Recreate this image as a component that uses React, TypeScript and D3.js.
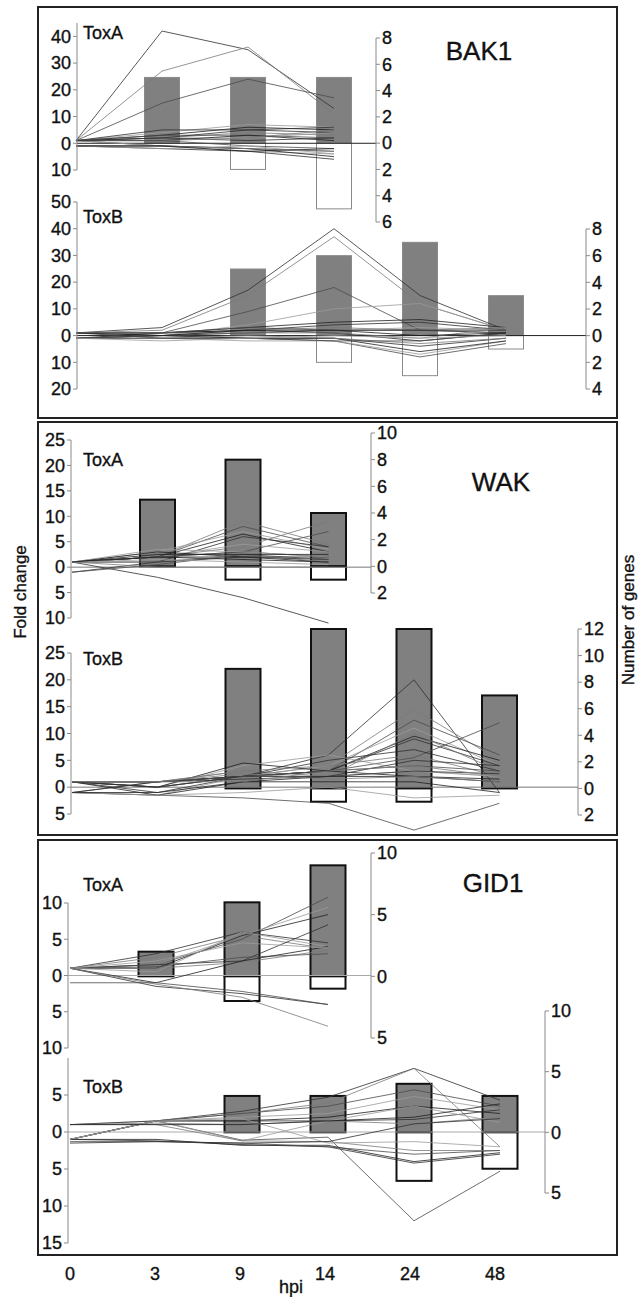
import React from "react";
import * as d3 from "d3";

// Sampling times (hours post infiltration)
const TIMES = ["0", "3", "9", "14", "24", "48"];

// Number of up- / down-regulated genes at each time point
const bak1ToxAUp = [0, 5, 5, 5];
const bak1ToxADown = [0, 0, 2, 5];
const bak1ToxBUp = [0, 0, 5, 6, 7, 3];
const bak1ToxBDown = [0, 0, 0, 2, 3, 1];
const wakToxAUp = [0, 5, 8, 4];
const wakToxADown = [0, 0, 1, 1];
const wakToxBUp = [0, 0, 9, 12, 12, 7];
const wakToxBDown = [0, 0, 0, 1, 1, 0];
const gid1ToxAUp = [0, 2, 6, 9];
const gid1ToxADown = [0, 0, 2, 1];
const gid1ToxBUp = [0, 0, 3, 3, 4, 3];
const gid1ToxBDown = [0, 0, 0, 0, 4, 3];

// Fold-change profiles of individual genes (one value per time point)
const bak1ToxALines = [
  [1, 42, 35, 13], [1, 27, 36, 11], [1, 15, 24, 17], [1, 4, 7, 6],
  [1, 3, 6, 5], [1, 5, 5, 4], [1, 2, 4, 3], [1, 3, 3, 2], [1, 2, 2, 4],
  [1, 1, 3, 1], [1, 2, 1, 2], [1, 1, 2, 5], [1, -1, -2, -3], [1, -1, -3, -4],
  [-1, -1, -2, -5], [-1, -2, -3, -6], [-1, -1, -2, -3], [1, 1, -1, -2],
  [-1, -2, -1, -4], [-1, -1, -3, -2], [1, 2, 5, 6],
];
const bak1ToxBLines = [
  [1, 3, 17, 40, 15, 2], [1, 2, 15, 37, 12, 2], [1, 1, 9, 18, 2, 1],
  [1, 0, 4, 10, 12, 2], [1, 1, 3, 5, 6, 3], [1, 1, 2, 4, 5, 2],
  [1, 0, 2, 3, 2, 3], [1, 1, 3, 2, 2, 1], [1, 0, 1, 2, 3, 2],
  [-1, 1, 2, 1, -2, 1], [-1, 0, 1, 2, 2, 2], [1, 1, 1, 1, -1, 3],
  [-1, 0, -1, -2, -8, -3], [-1, -1, -2, -2, -7, -2], [-1, -1, -1, -1, -6, -2],
  [-1, 0, -1, -1, -4, -1], [-1, -1, 0, -1, -3, -1], [1, -1, -1, -2, -2, 1],
  [-1, -2, -1, 0, -1, 0], [1, 0, 2, 2, 0, 1],
];
const wakToxALines = [
  [1, -2, -6, -11], [1, 2, 9, 4.5], [1, 2, 8, 4], [1, 3, 7, 3.5],
  [1, 2, 6.5, 3], [1, 1, 6, 4], [1, 2, 4, 9], [1, 2, 3, 7], [1, 2, 4.5, 3],
  [1, 3, 2, 1], [1, 2, 2, 2], [1, 1, 2.5, 1], [1, 2, 3, 2], [1, 3.5, 3, 2],
  [1, 2, 1.5, 1], [-1, 1, 2, 1.5], [1, 0, 0, 0], [-1, 0.5, 2.5, 1.5],
  [1, 1.5, 1, 0.5], [1, 2.5, 2.5, 2.5],
];
const wakToxBLines = [
  [1, -1, 2, 6, 20, -1], [1, 0, 2, 4, 14.5, 5], [1, 1, 2, 3, 12.5, 6],
  [1, 0, 2, 4, 11, 4], [1, 1, 2, 3, 9.5, 5], [1, 1, 2, 3, 9, 4],
  [1, 1, 3, 2, 10, 3], [1, 0, 2, 3, 5.5, 12], [1, 0, 4, 6, 3, 2],
  [1, 0, 4.5, 3, 2, 1], [1, 1, 2, 5, 7, 3], [1, 1, 3, 4, 6, 2],
  [-1, 1, 2, 3, 4, 3], [-1, -1.5, 2, 2, 3, 2], [1, -1.5, 1, 2, 2, 1.5],
  [-1, 1, 1.5, 2, 3, 2.5], [1, 1, 2.5, 1.5, 2, 1], [-1, -1.5, -2, -3, -8, -3],
  [-1, -1.5, -1, 0, -2, -1.5], [-1, -1, 1, 1, 1, -1], [1, 0, 2, 2, 5, 4],
  [1, 1, 1, 3, 4, 2],
];
const gid1ToxALines = [
  [1, 3, 6, 4.5], [1, 2.5, 5.5, 3.7], [1, 1.5, 5, 10.8], [1, 1.5, 5.5, 9.4],
  [1, 1, 5.5, 8.4], [1, 1.5, 2, 7], [1, 1, 1.8, 3.5], [1, 1.2, 2.5, 3],
  [1, 0.5, 6, 4], [1, -1, 2, 4], [1, -1.5, -2.5, -4], [1, -1.2, -3, -7],
  [-1, -1, -2.2, -4], [1, 2, 4.5, 3.8],
];
const gid1ToxBLines = [
  [-1, 1.5, 2.8, 4.7, 8.6, 4.3], [-1, 1.5, 2.5, 3.9, 8.6, -2],
  [-1, 1.5, 2.5, 3.5, 5.7, 3.5], [1, 1.5, 2, 2.5, 4.8, 3],
  [-1, 1.5, 1.5, 2, 3.5, 2.5], [1, 1.5, 1.5, 1.5, 1.7, 3],
  [1, 1.2, 1, 1.5, 1.1, 2], [-1, 1.5, -1.1, -0.7, -12, -5.3],
  [-1, 1.5, -1.2, 1.5, 3.5, 1.3], [-1, -1, -1.8, -1.8, -4, -2.8],
  [-1, -1.2, -1.7, -2, -4.2, -3], [1, 1, -1.2, -1.3, -2.5, -2.5],
  [-1.3, -1.3, -1.5, -2, -3, -2.5], [-1, 1.5, 1.8, -1.5, -1.3, -2],
  [1, 1, 1, 1.5, 2, 3.8], [-1.5, -1.3, -1.5, -1.3, 1.1, 1.8],
];

// Axis ticks
const bak1ToxAFoldTicks = [-10, 0, 10, 20, 30, 40];
const bak1ToxAGeneTicks = [-6, -4, -2, 0, 2, 4, 6, 8];
const bak1ToxBFoldTicks = [-20, -10, 0, 10, 20, 30, 40, 50];
const bak1ToxBGeneTicks = [-4, -2, 0, 2, 4, 6, 8];
const wakToxAFoldTicks = [-10, -5, 0, 5, 10, 15, 20, 25];
const wakToxAGeneTicks = [-2, 0, 2, 4, 6, 8, 10];
const wakToxBFoldTicks = [-5, 0, 5, 10, 15, 20, 25];
const wakToxBGeneTicks = [-2, 0, 2, 4, 6, 8, 10, 12];
const gid1ToxAFoldTicks = [-10, -5, 0, 5, 10];
const gid1ToxAGeneTicks = [-5, 0, 5, 10];
const gid1ToxBFoldTicks = [-15, -10, -5, 0, 5];
const gid1ToxBGeneTicks = [-5, 0, 5, 10];

type Sub = {
  name: string;
  lines: number[][];
  up: number[];
  down: number[];
  foldTicks: number[];
  geneTicks: number[];
  foldDomain: [number, number];
  geneDomain: [number, number];
  foldRange: [number, number];
  geneRange: [number, number];
  leftX: number;
  rightX: number;
  labelY: number;
};

type Panel = {
  title: string;
  boxY: number;
  boxH: number;
  titleX: number;
  titleY: number;
  x0: number;
  step: number;
  barStroke: string;
  barStrokeWidth: number;
  zeroColor: string;
  subs: Sub[];
};

const PANELS: Panel[] = [
  {
    title: "BAK1", boxY: 7, boxH: 411, titleX: 479, titleY: 60, x0: 76, step: 86,
    barStroke: "#8a8a8a", barStrokeWidth: 1, zeroColor: "#222",
    subs: [
      { name: "ToxA", lines: bak1ToxALines, up: bak1ToxAUp, down: bak1ToxADown,
        foldTicks: bak1ToxAFoldTicks, geneTicks: bak1ToxAGeneTicks,
        foldDomain: [-10, 45], geneDomain: [-6, 8], foldRange: [170, 23], geneRange: [222, 38],
        leftX: 77, rightX: 376, labelY: 39 },
      { name: "ToxB", lines: bak1ToxBLines, up: bak1ToxBUp, down: bak1ToxBDown,
        foldTicks: bak1ToxBFoldTicks, geneTicks: bak1ToxBGeneTicks,
        foldDomain: [-20, 50], geneDomain: [-4, 8], foldRange: [389, 202], geneRange: [389, 229],
        leftX: 77, rightX: 586, labelY: 223 },
    ],
  },
  {
    title: "WAK", boxY: 422, boxH: 413, titleX: 501, titleY: 491, x0: 72, step: 85.5,
    barStroke: "#111", barStrokeWidth: 2, zeroColor: "#777",
    subs: [
      { name: "ToxA", lines: wakToxALines, up: wakToxAUp, down: wakToxADown,
        foldTicks: wakToxAFoldTicks, geneTicks: wakToxAGeneTicks,
        foldDomain: [-10, 25], geneDomain: [-2, 10], foldRange: [618, 440], geneRange: [593, 433],
        leftX: 71, rightX: 371, labelY: 466 },
      { name: "ToxB", lines: wakToxBLines, up: wakToxBUp, down: wakToxBDown,
        foldTicks: wakToxBFoldTicks, geneTicks: wakToxBGeneTicks,
        foldDomain: [-5, 25], geneDomain: [-2, 12], foldRange: [814, 653], geneRange: [815, 629],
        leftX: 71, rightX: 578, labelY: 665 },
    ],
  },
  {
    title: "GID1", boxY: 840, boxH: 415, titleX: 493, titleY: 892, x0: 70, step: 86,
    barStroke: "#111", barStrokeWidth: 2, zeroColor: "#aaa",
    subs: [
      { name: "ToxA", lines: gid1ToxALines, up: gid1ToxAUp, down: gid1ToxADown,
        foldTicks: gid1ToxAFoldTicks, geneTicks: gid1ToxAGeneTicks,
        foldDomain: [-10, 10], geneDomain: [-5, 10], foldRange: [1048, 903], geneRange: [1038, 853],
        leftX: 68, rightX: 371, labelY: 891 },
      { name: "ToxB", lines: gid1ToxBLines, up: gid1ToxBUp, down: gid1ToxBDown,
        foldTicks: gid1ToxBFoldTicks, geneTicks: gid1ToxBGeneTicks,
        foldDomain: [-15, 10], geneDomain: [-5, 10], foldRange: [1243, 1058], geneRange: [1193, 1011],
        leftX: 68, rightX: 545, labelY: 1093 },
    ],
  },
];

const FONT = "'Liberation Sans', Arial, Helvetica, sans-serif";
const INK = "#111";
const TEXT_STYLE = { fill: INK, stroke: INK, strokeWidth: 0.35 };
const LINE_SHADES = ["#2e2e2e", "#7a7a7a", "#4a4a4a", "#9a9a9a", "#1e1e1e"];
const BAR_WIDTH = 35;

function Subplot({ s, p }: { s: Sub; p: Panel }) {
  const x = d3
    .scalePoint<string>()
    .domain(TIMES)
    .range([p.x0, p.x0 + p.step * (TIMES.length - 1)]);
  const yFold = d3.scaleLinear().domain(s.foldDomain).range(s.foldRange);
  const yGene = d3.scaleLinear().domain(s.geneDomain).range(s.geneRange);
  const line = d3
    .line<number>()
    .x((_, i) => x(TIMES[i]) as number)
    .y((v) => yFold(v));

  return (
    <g>
      {/* gene-count bars */}
      {s.up.map((v, i) =>
        v > 0 ? (
          <rect
            key={"u" + i}
            x={(x(TIMES[i]) as number) - BAR_WIDTH / 2}
            y={yGene(v)}
            width={BAR_WIDTH}
            height={yGene(0) - yGene(v)}
            fill="#808080"
            stroke={p.barStroke}
            strokeWidth={p.barStrokeWidth}
          />
        ) : null
      )}
      {s.down.map((v, i) =>
        v > 0 ? (
          <rect
            key={"d" + i}
            x={(x(TIMES[i]) as number) - BAR_WIDTH / 2}
            y={yGene(0)}
            width={BAR_WIDTH}
            height={yGene(-v) - yGene(0)}
            fill="#fff"
            stroke={p.barStroke}
            strokeWidth={p.barStrokeWidth}
          />
        ) : null
      )}
      {/* baseline */}
      <line x1={s.leftX} x2={s.rightX} y1={yFold(0)} y2={yFold(0)} stroke={p.zeroColor} strokeWidth={1} />
      {/* gene profiles */}
      {s.lines.map((vals, i) => (
        <path
          key={"l" + i}
          d={line(vals) || ""}
          fill="none"
          stroke={LINE_SHADES[i % LINE_SHADES.length]}
          strokeWidth={0.8}
        />
      ))}
      {/* fold-change axis */}
      <line x1={s.leftX} x2={s.leftX} y1={yFold(s.foldDomain[0])} y2={yFold(s.foldDomain[1])} stroke="#8a8a8a" />
      {s.foldTicks.map((t) => (
        <g key={"ft" + t}>
          <line x1={s.leftX - 4} x2={s.leftX} y1={yFold(t)} y2={yFold(t)} stroke="#8a8a8a" />
          <text
            x={s.leftX - 6}
            y={yFold(t)}
            dy="0.35em"
            textAnchor="end"
            fontSize={18}
            fontFamily={FONT}
            {...TEXT_STYLE}
          >
            {Math.abs(t)}
          </text>
        </g>
      ))}
      {/* gene-count axis */}
      <line x1={s.rightX} x2={s.rightX} y1={yGene(s.geneDomain[0])} y2={yGene(s.geneDomain[1])} stroke="#8a8a8a" />
      {s.geneTicks.map((t) => (
        <g key={"gt" + t}>
          <line x1={s.rightX} x2={s.rightX + 4} y1={yGene(t)} y2={yGene(t)} stroke="#8a8a8a" />
          <text
            x={s.rightX + 6}
            y={yGene(t)}
            dy="0.35em"
            textAnchor="start"
            fontSize={18}
            fontFamily={FONT}
            {...TEXT_STYLE}
          >
            {Math.abs(t)}
          </text>
        </g>
      ))}
      <text x={83} y={s.labelY} fontSize={18} fontFamily={FONT} {...TEXT_STYLE}>
        {s.name}
      </text>
    </g>
  );
}

export default function App() {
  const xTimes = d3.scalePoint<string>().domain(TIMES).range([70, 495]);
  return (
    <svg width={643} height={1297} style={{ position: "absolute", left: 0, top: 0, background: "#fff" }}>
      <rect x={0} y={0} width={643} height={1297} fill="#fff" />
      {PANELS.map((p) => (
        <g key={p.title}>
          <rect x={38} y={p.boxY} width={579} height={p.boxH} fill="none" stroke="#222" strokeWidth={2} />
          {p.subs.map((s) => (
            <Subplot key={s.name} s={s} p={p} />
          ))}
          <text x={p.titleX} y={p.titleY} textAnchor="middle" fontSize={26} fontFamily={FONT} {...TEXT_STYLE}>
            {p.title}
          </text>
        </g>
      ))}
      {TIMES.map((t) => (
        <text
          key={"x" + t}
          x={xTimes(t)}
          y={1280}
          textAnchor="middle"
          fontSize={18}
          fontFamily={FONT}
          {...TEXT_STYLE}
        >
          {t}
        </text>
      ))}
      <text x={291} y={1293} textAnchor="middle" fontSize={18} fontFamily={FONT} {...TEXT_STYLE}>
        hpi
      </text>
      <text
        transform="translate(26,592) rotate(-90)"
        textAnchor="middle"
        fontSize={17}
        fontFamily={FONT}
        {...TEXT_STYLE}
      >
        Fold change
      </text>
      <text
        transform="translate(634,620) rotate(-90)"
        textAnchor="middle"
        fontSize={17}
        fontFamily={FONT}
        {...TEXT_STYLE}
      >
        Number of genes
      </text>
    </svg>
  );
}
